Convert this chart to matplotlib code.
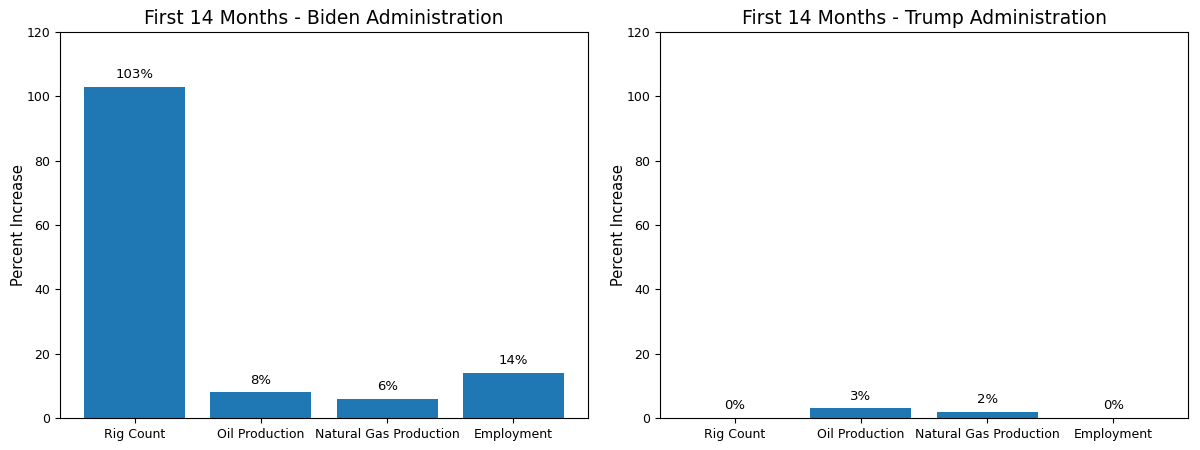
import matplotlib
matplotlib.use("Agg")
import matplotlib.pyplot as plt

categories = ["Rig Count", "Oil Production", "Natural Gas Production", "Employment"]
biden_values = [103, 8, 6, 14]
trump_values = [0, 3, 2, 0]
titles = ["First 14 Months - Biden Administration", "First 14 Months - Trump Administration"]

fig, axes = plt.subplots(1, 2, figsize=(12, 4.5), dpi=100)
for ax, vals, title in zip(axes, [biden_values, trump_values], titles):
    bars = ax.bar(categories, vals, color="#1f77b4")
    ax.set_ylim(0, 120)
    ax.set_title(title, fontsize=13.5)
    ax.set_ylabel("Percent Increase", fontsize=10.5, labelpad=0)
    for b, v in zip(bars, vals):
        ax.annotate(f"{v}%", (b.get_x() + b.get_width() / 2, v),
                    xytext=(0, 4), textcoords="offset points",
                    ha="center", va="bottom", fontsize=9.5)
    ax.tick_params(labelsize=9)

fig.subplots_adjust(left=0.05, right=0.99, top=0.9289, bottom=0.0711, wspace=0.1364)
fig.savefig("out.png")
